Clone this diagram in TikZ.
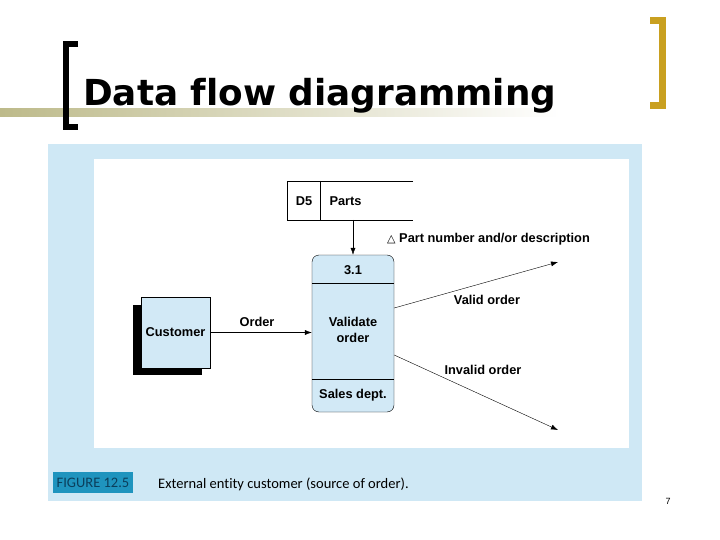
\documentclass[tikz,border=0pt]{standalone}
\usepackage{fontspec}
\setmainfont{Liberation Sans}
\newfontfamily\titlefont[Ligatures=NoCommon]{DejaVu Sans}
\newfontfamily\capfont[Ligatures=NoCommon]{Carlito}
\newfontfamily\symfont{DejaVu Sans}
\usetikzlibrary{arrows.meta}
\definecolor{panelblue}{HTML}{CFE8F5}
\definecolor{boxblue}{HTML}{D2E9F6}
\definecolor{barolive}{HTML}{BDBA8A}
\definecolor{bracketgold}{HTML}{C9A020}
\definecolor{figteal}{HTML}{1F94BE}
\definecolor{figtext}{HTML}{0B3F5C}
\newcommand{\dfdfont}{\fontsize{12.8}{16}\selectfont\bfseries}
\tikzset{
  dfdbox/.style={draw,fill=boxblue,inner sep=0pt},
  flow/.style={->,thin},
}
\begin{document}
\begin{tikzpicture}[x=1pt,y=-1pt,>={Latex[length=7pt,width=5pt]},font=\dfdfont]
\useasboundingbox (0,0) rectangle (720,540);
% title and brackets
\shade[left color=barolive,right color=white] (0,109) rectangle (560,117);
\draw[line width=6pt] (78,44) -- (66,44) -- (66,127.5) -- (78,127.5);
\draw[bracketgold,line width=7pt] (650,20.5) -- (662.5,20.5) -- (662.5,105.5) -- (650,105.5);
\node[anchor=base west,inner sep=0pt,font=\titlefont\fontsize{35.8}{43}\selectfont\bfseries] (title) at (83,106) {Data flow diagramming};
% figure panel
\fill[panelblue] (48,144) rectangle (642,501);
\fill[white] (94,159) rectangle (629,448);
\node[fill=figteal,text=figtext,inner sep=0pt,minimum width=80,minimum height=21,font=\capfont\fontsize{14.5}{16}\selectfont] (fignum) at (93,482.5) {FIGURE 12.5};
\node[anchor=west,inner sep=0pt,font=\capfont\fontsize{14.5}{17}\selectfont] (figcap) at (158,484) {External entity customer (source of order).};
\node[font=\fontsize{9}{10}\selectfont] (pagenum) at (668,501) {7};
% data store D5
\draw (413,181) -- (287,181) -- (287,220) -- (413,220);
\draw (320,181) -- (320,220);
\node (storeid) at (304,201) {D5};
\node[anchor=west] (storename) at (326,201) {Parts};
\coordinate (storeout) at (353,220);
% process 3.1
\node[dfdbox,rounded corners=7pt,minimum width=82,minimum height=157] (proc) at (353,333.5) {};
\draw (proc.west |- 0,283) -- (proc.east |- 0,283);
\draw (proc.west |- 0,379) -- (proc.east |- 0,379);
\node (procid) at (353,270) {3.1};
\node[align=center] (procname) at (353,330) {Validate\\order};
\node (procloc) at (353,395) {Sales dept.};
% external entity
\fill (133,305) rectangle (202,375);
\node[dfdbox,minimum width=69,minimum height=71] (cust) at (175.5,332.5) {Customer};
% flows
\coordinate (validend) at (558,262);
\coordinate (invalidend) at (558,430);
\draw[flow] (storeout) -- (proc.north);
\draw[flow] (cust.east) -- (cust.east -| proc.west);
\draw[flow] (proc.east |- 0,308) -- (validend);
\draw[flow] (proc.east |- 0,355) -- (invalidend);
\node (orderlbl) at (257,322) {Order};
\node (validlbl) at (487,300) {Valid order};
\node (invalidlbl) at (483,370) {Invalid order};
\node[anchor=west,inner sep=0pt] (partlbl) at (387,239) {{\symfont\mdseries\fontsize{11}{12}\selectfont △}~Part number and/or description};
\end{tikzpicture}
\end{document}
